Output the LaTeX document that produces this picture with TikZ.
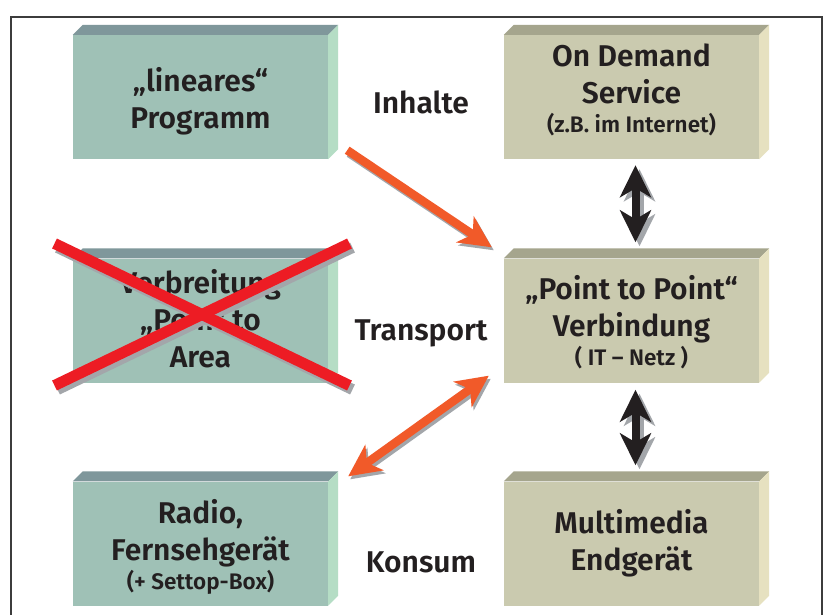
\documentclass[tikz,border=0pt]{standalone}
\usepackage{fontspec}
\setmainfont{Fira Sans}[UprightFont={* SemiBold},BoldFont={* SemiBold}]
\usetikzlibrary{arrows.meta,calc}

\definecolor{Lfront}{HTML}{9FC1B6}
\definecolor{Ltop}{HTML}{7F979B}
\definecolor{Lside}{HTML}{B5DDC5}
\definecolor{Rfront}{HTML}{CACAAF}
\definecolor{Rtop}{HTML}{A5A58D}
\definecolor{Rside}{HTML}{E6E1C0}
\definecolor{flow}{HTML}{F15A29}
\definecolor{strike}{HTML}{ED1C24}
\definecolor{dropgray}{HTML}{A3A6AA}
\definecolor{ink}{HTML}{231F20}
\definecolor{frame}{HTML}{3C3C3C}

\tikzset{
  front/.style={rectangle, minimum width=255pt, minimum height=124pt, inner sep=0pt, fill=#1front},
  boxtext/.style={align=center, text=ink, font=\fontsize{30}{37}\selectfont, inner sep=0pt},
  rowlabel/.style={text=ink, font=\fontsize{30}{36}\selectfont, inner sep=0pt},
  flowarrow/.style={line width=8.5pt, draw=flow, fill=flow},
  dropline/.style={line width=8.5pt, draw=dropgray, fill=dropgray},
  fliptip/.tip={Stealth[length=32pt, width=31pt, inset=9pt]},
}

% a bevelled slab: front face as node, top and side faces attached
\newcommand\slab[3]{%
  \node[front=#3] (#1) at (#2) {};
  \fill[#3top] (#1.north west) -- ++(10,-10) -- ([shift={(10,-10)}]#1.north east) -- (#1.north east) -- cycle;
  \fill[#3side] (#1.north east) -- ++(10,-10) -- ([shift={(10,-10)}]#1.south east) -- (#1.south east) -- cycle;
}
\newcommand\smalltxt{\fontsize{22.5}{23}\selectfont}

\begin{document}
\begin{tikzpicture}[x=1pt, y=-1pt]
\useasboundingbox (0,0) rectangle (828,614);
\clip (0,0) rectangle (828,614);
\fill[white] (0,0) rectangle (828,614);

% outer frame
\draw[frame, line width=2.5pt] (11,17) rectangle (822,640);

% slabs
\slab{lin}{200.5,97}{L}
\slab{ods}{631.5,97}{R}
\slab{pta}{200.5,320.5}{L}
\slab{ptp}{631.5,320.5}{R}
\slab{rad}{200.5,543.5}{L}
\slab{mme}{631.5,543.5}{R}

% slab captions
\node[boxtext] (tlin) at (200.5,101) {„lineares“\\Programm};
\node[boxtext] (tods) at (631.5,90) {On Demand\\Service\\[-8pt]{\smalltxt (z.B. im Internet)}};
\node[boxtext] (tpta) at (200.5,319) {Verbreitung\\„Point to\\Area};
\node[boxtext] (tptp) at (631.5,322) {„Point to Point“\\Verbindung\\[-8pt]{\smalltxt ( IT – Netz )}};
\node[boxtext] (trad) at (200.5,547) {Radio,\\Fernsehgerät\\[-8pt]{\smalltxt (+ Settop-Box)}};
\node[boxtext] (tmme) at (631.5,543.5) {Multimedia\\Endgerät};

% row labels
\node[rowlabel] (inh) at (421,102) {Inhalte};
\node[rowlabel] (trn) at (421,333) {Transport};
\node[rowlabel] (kns) at (421,562) {Konsum};

% crossed-out slab
\coordinate (xa) at ([shift={(-146,-77)}]pta.center);
\coordinate (xb) at ([shift={(149,65)}]pta.center);
\coordinate (xc) at ([shift={(-146,65)}]pta.center);
\coordinate (xd) at ([shift={(149,-77)}]pta.center);
\begin{scope}[line width=11pt]
  \draw[dropgray] ([shift={(3,4)}]xa) -- ([shift={(3,4)}]xb);
  \draw[dropgray] ([shift={(3,4)}]xc) -- ([shift={(3,4)}]xd);
  \draw[strike] (xa) -- (xb);
  \draw[strike] (xc) -- (xd);
\end{scope}

% orange arrows between program / transport / consumer
\coordinate (o1s) at ([shift={(19,-9)}]lin.south east);
\coordinate (o1e) at ([shift={(-12,-11)}]ptp.north west);
\coordinate (o2s) at ([shift={(-15,-7)}]ptp.south west);
\coordinate (o2e) at ([shift={(20,-5)}]rad.north east);
\draw[dropline, -fliptip] ([shift={(2,3)}]o1s) -- ([shift={(2,3)}]o1e);
\draw[flowarrow, -fliptip] (o1s) -- (o1e);
\draw[dropline, fliptip-fliptip] ([shift={(2,3)}]o2s) -- ([shift={(2,3)}]o2e);
\draw[flowarrow, fliptip-fliptip] (o2s) -- (o2e);

% black vertical double arrows
\coordinate (b1s) at ([shift={(4,6)}]ods.south);
\coordinate (b1e) at ([shift={(4,-16)}]ptp.north);
\coordinate (b2s) at ([shift={(4,7)}]ptp.south);
\coordinate (b2e) at ([shift={(4,-16)}]mme.north);
\begin{scope}[line width=8pt]
  \draw[dropgray, fliptip-fliptip] ([shift={(4,4)}]b1s) -- ([shift={(4,4)}]b1e);
  \draw[ink, fliptip-fliptip] (b1s) -- (b1e);
  \draw[dropgray, fliptip-fliptip] ([shift={(4,4)}]b2s) -- ([shift={(4,4)}]b2e);
  \draw[ink, fliptip-fliptip] (b2s) -- (b2e);
\end{scope}
\end{tikzpicture}
\end{document}
